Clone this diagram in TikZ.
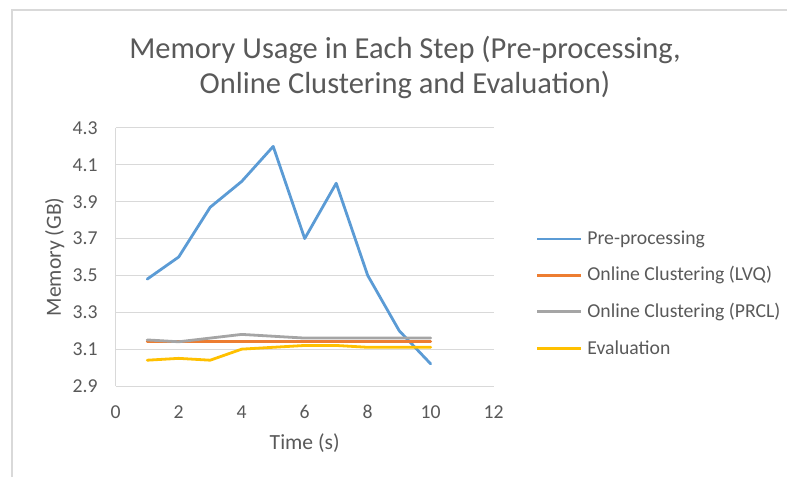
\documentclass[tikz,border=0pt]{standalone}
\usepackage{fontspec}
\setmainfont{Carlito}
\definecolor{txtgray}{HTML}{595959}
\definecolor{gridgray}{HTML}{D9D9D9}
\definecolor{preblue}{HTML}{5B9BD5}
\definecolor{lvqorange}{HTML}{ED7D31}
\definecolor{prclgray}{HTML}{A5A5A5}
\definecolor{evalyellow}{HTML}{FFC000}
\tikzset{
  series/.style={line width=2.8pt, line join=round, line cap=round},
  ticklabel/.style={font=\fontsize{19.7}{23}\selectfont, text=txtgray},
  axislabel/.style={font=\fontsize{21.6}{25}\selectfont, text=txtgray},
  gridline/.style={gridgray, line width=1pt}
}
\begin{document}
\begin{tikzpicture}[x=1pt, y=-1pt, text=txtgray]

\useasboundingbox (0,0) rectangle (787,477);
\draw [gridgray, line width=2pt] (12,477) -- (12,10) -- (787,10);

\node [align=center, font=\fontsize{30.5}{35}\selectfont] (title) at (405,67)
  {Memory Usage in Each Step (Pre-processing,\\Online Clustering and Evaluation)};

% plot area, data units
\begin{scope}[x=31.5pt, y=184.3pt, shift={(115.7pt,-386pt)}, shift={(0,-2.9)}]
\foreach \v [count=\i] in {2.9,3.1,3.3,3.5,3.7,3.9,4.1,4.3} {
  \draw [gridline] (0,\v) -- (12,\v);
  \node [ticklabel, anchor=east, inner sep=0pt] (ytick\i) at ([xshift=-18pt]0,\v) {\v};
}
\draw [gridline] (0,2.9) -- (0,4.3);
\foreach \t in {0,2,...,12}
  \node [ticklabel] (xtick\t) at ([yshift=-26pt]\t,2.9) {\t};

\node [axislabel, rotate=90] (ylab) at ([xshift=-61pt]0,3.6) {Memory (GB)};
\node [axislabel] (xlab) at ([yshift=-57pt]6,2.9) {Time (s)};

\draw [series, preblue] plot coordinates {(1,3.48) (2,3.6) (3,3.87) (4,4.01) (5,4.2)
  (6,3.7) (7,4.0) (8,3.5) (9,3.2) (10,3.02)};
\draw [series, lvqorange] plot coordinates {(1,3.14) (2,3.14) (3,3.14) (4,3.14) (5,3.14)
  (6,3.14) (7,3.14) (8,3.14) (9,3.14) (10,3.14)};
\draw [series, prclgray] plot coordinates {(1,3.15) (2,3.14) (3,3.16) (4,3.18) (5,3.17)
  (6,3.16) (7,3.16) (8,3.16) (9,3.16) (10,3.16)};
\draw [series, evalyellow] plot coordinates {(1,3.04) (2,3.05) (3,3.04) (4,3.1) (5,3.11)
  (6,3.12) (7,3.12) (8,3.11) (9,3.11) (10,3.11)};
\end{scope}

% legend
\foreach \c/\lab [count=\i] in {preblue/Pre-processing, lvqorange/Online Clustering (LVQ),
    prclgray/Online Clustering (PRCL), evalyellow/Evaluation}
  \draw [series, line cap=butt, \c] (537,{239+36.4*(\i-1)}) -- ++(44,0)
    node [right, ticklabel, inner sep=5pt] (leg\i) {\lab};
\end{tikzpicture}
\end{document}
